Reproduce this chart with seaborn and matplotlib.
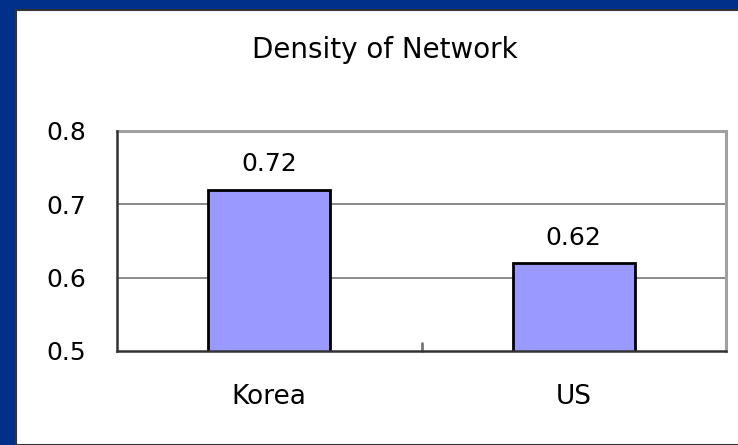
import matplotlib
matplotlib.use("Agg")
import matplotlib.pyplot as plt
import seaborn as sns
import pandas as pd
from matplotlib.patches import Rectangle

# data
countries = ["Korea", "US"]
density = [0.72, 0.62]
y_ticks = [0.5, 0.6, 0.7, 0.8]
title = "Density of Network"

df = pd.DataFrame({"country": countries, "density": density})

sns.set_style("white")
plt.rcParams["font.family"] = ["DejaVu Sans"]
plt.rcParams["text.color"] = "black"
plt.rcParams["xtick.color"] = "black"
plt.rcParams["ytick.color"] = "black"

fig = plt.figure(figsize=(7.38, 4.45), dpi=100)
fig.patch.set_facecolor("#00308A")

# white slide panel with dark edge
panel = Rectangle((16 / 738, 0), 1, 1 - 10 / 445, transform=fig.transFigure,
                  facecolor="white", edgecolor="#333333", linewidth=1.5, zorder=0)
fig.patches.append(panel)

ax = fig.add_axes([117 / 738, 94 / 445, 609 / 738, 220 / 445])
ax.set_zorder(2)
ax.set_facecolor("white")

sns.barplot(data=df, x="country", y="density", color="#9999FF", saturation=1,
            width=0.4, edgecolor="black", linewidth=2, ax=ax, zorder=3)

ax.set_ylim(0.5, 0.8)
ax.set_xlim(-0.5, 1.5)
ax.set_yticks(y_ticks)
ax.set_yticklabels([f"{v:.1f}" for v in y_ticks], fontsize=18)
ax.tick_params(axis="y", direction="in", length=8, width=1.5, color="#444444", pad=22)
ax.tick_params(axis="x", length=0, pad=24, labelsize=19)
ax.set_xticks([0, 1])
ax.set_xticklabels(countries)

# gridlines
for v in y_ticks[1:3]:
    ax.axhline(v, color="#777777", linewidth=1.2, zorder=1)

# category separator tick
ax.plot([0.5, 0.5], [0.5, 0.5 + 0.3 * 8 / 220], color="#777777", linewidth=2, zorder=2, clip_on=False)

for s in ["left", "bottom"]:
    ax.spines[s].set_color("#333333")
    ax.spines[s].set_linewidth(1.8)
for s in ["top", "right"]:
    ax.spines[s].set_color("#a0a0a0")
    ax.spines[s].set_linewidth(2.2)
ax.spines["left"].set_zorder(4)
ax.spines["bottom"].set_zorder(4)

ax.set_xlabel("")
ax.set_ylabel("")

for i, v in enumerate(density):
    ax.text(i, v + 0.018, f"{v:.2f}", ha="center", va="bottom", fontsize=18)

fig.text(385 / 738, 1 - 50 / 445, title, ha="center", va="center", fontsize=20)

fig.savefig("out.png", dpi=100, facecolor=fig.get_facecolor())
